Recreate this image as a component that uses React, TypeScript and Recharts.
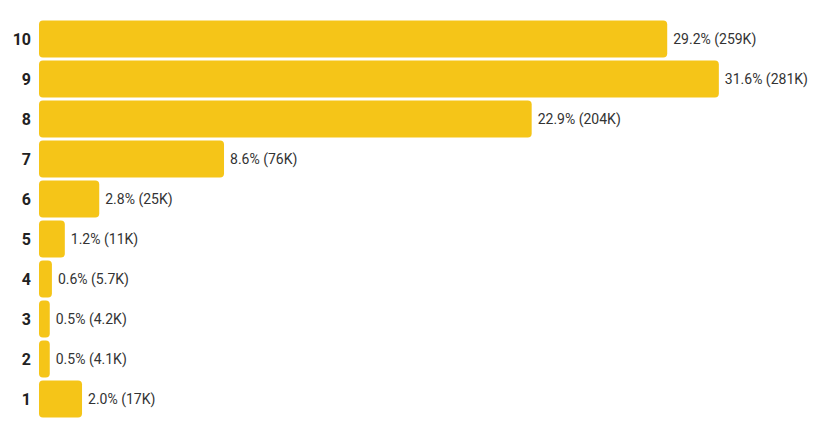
import { BarChart, Bar, XAxis, YAxis, LabelList } from 'recharts';

// rating buckets, top to bottom
const ratings = ['10', '9', '8', '7', '6', '5', '4', '3', '2', '1'];
// share of votes (%)
const shares = [29.2, 31.6, 22.9, 8.6, 2.8, 1.2, 0.6, 0.5, 0.5, 2.0];
// vote counts as shown
const counts = ['259K', '281K', '204K', '76K', '25K', '11K', '5.7K', '4.2K', '4.1K', '17K'];

const data = ratings.map((rating, i) => ({
    rating,
    share: shares[i],
    label: `${shares[i].toFixed(1)}% (${counts[i]})`,
}));

// plain svg text so long labels never wrap
const renderLabel = (props: any) => {
    const { x, y, width, height, value } = props;
    return (
        <text
            x={Number(x) + Number(width) + 6}
            y={Number(y) + Number(height) / 2}
            dominantBaseline="central"
            fill="#333"
            fontSize={14}
        >
            {value}
        </text>
    );
};

const App = () => {
    return (
        <div style={{ fontFamily: 'Roboto, sans-serif' }}>
            <BarChart
                width={810}
                height={416}
                data={data}
                layout="vertical"
                margin={{ top: 11, right: 26, left: 0, bottom: 5 }}
                barCategoryGap={1.5}
            >
                <XAxis type="number" domain={[0, 35]} hide />
                <YAxis
                    type="category"
                    dataKey="rating"
                    width={31}
                    axisLine={false}
                    tickLine={false}
                    tick={{ fill: '#222', fontSize: 16, fontWeight: 700 }}
                />
                <Bar dataKey="share" fill="#F5C518" radius={4} isAnimationActive={false}>
                    <LabelList dataKey="label" content={renderLabel} />
                </Bar>
            </BarChart>
        </div>
    );
};

export default App;
